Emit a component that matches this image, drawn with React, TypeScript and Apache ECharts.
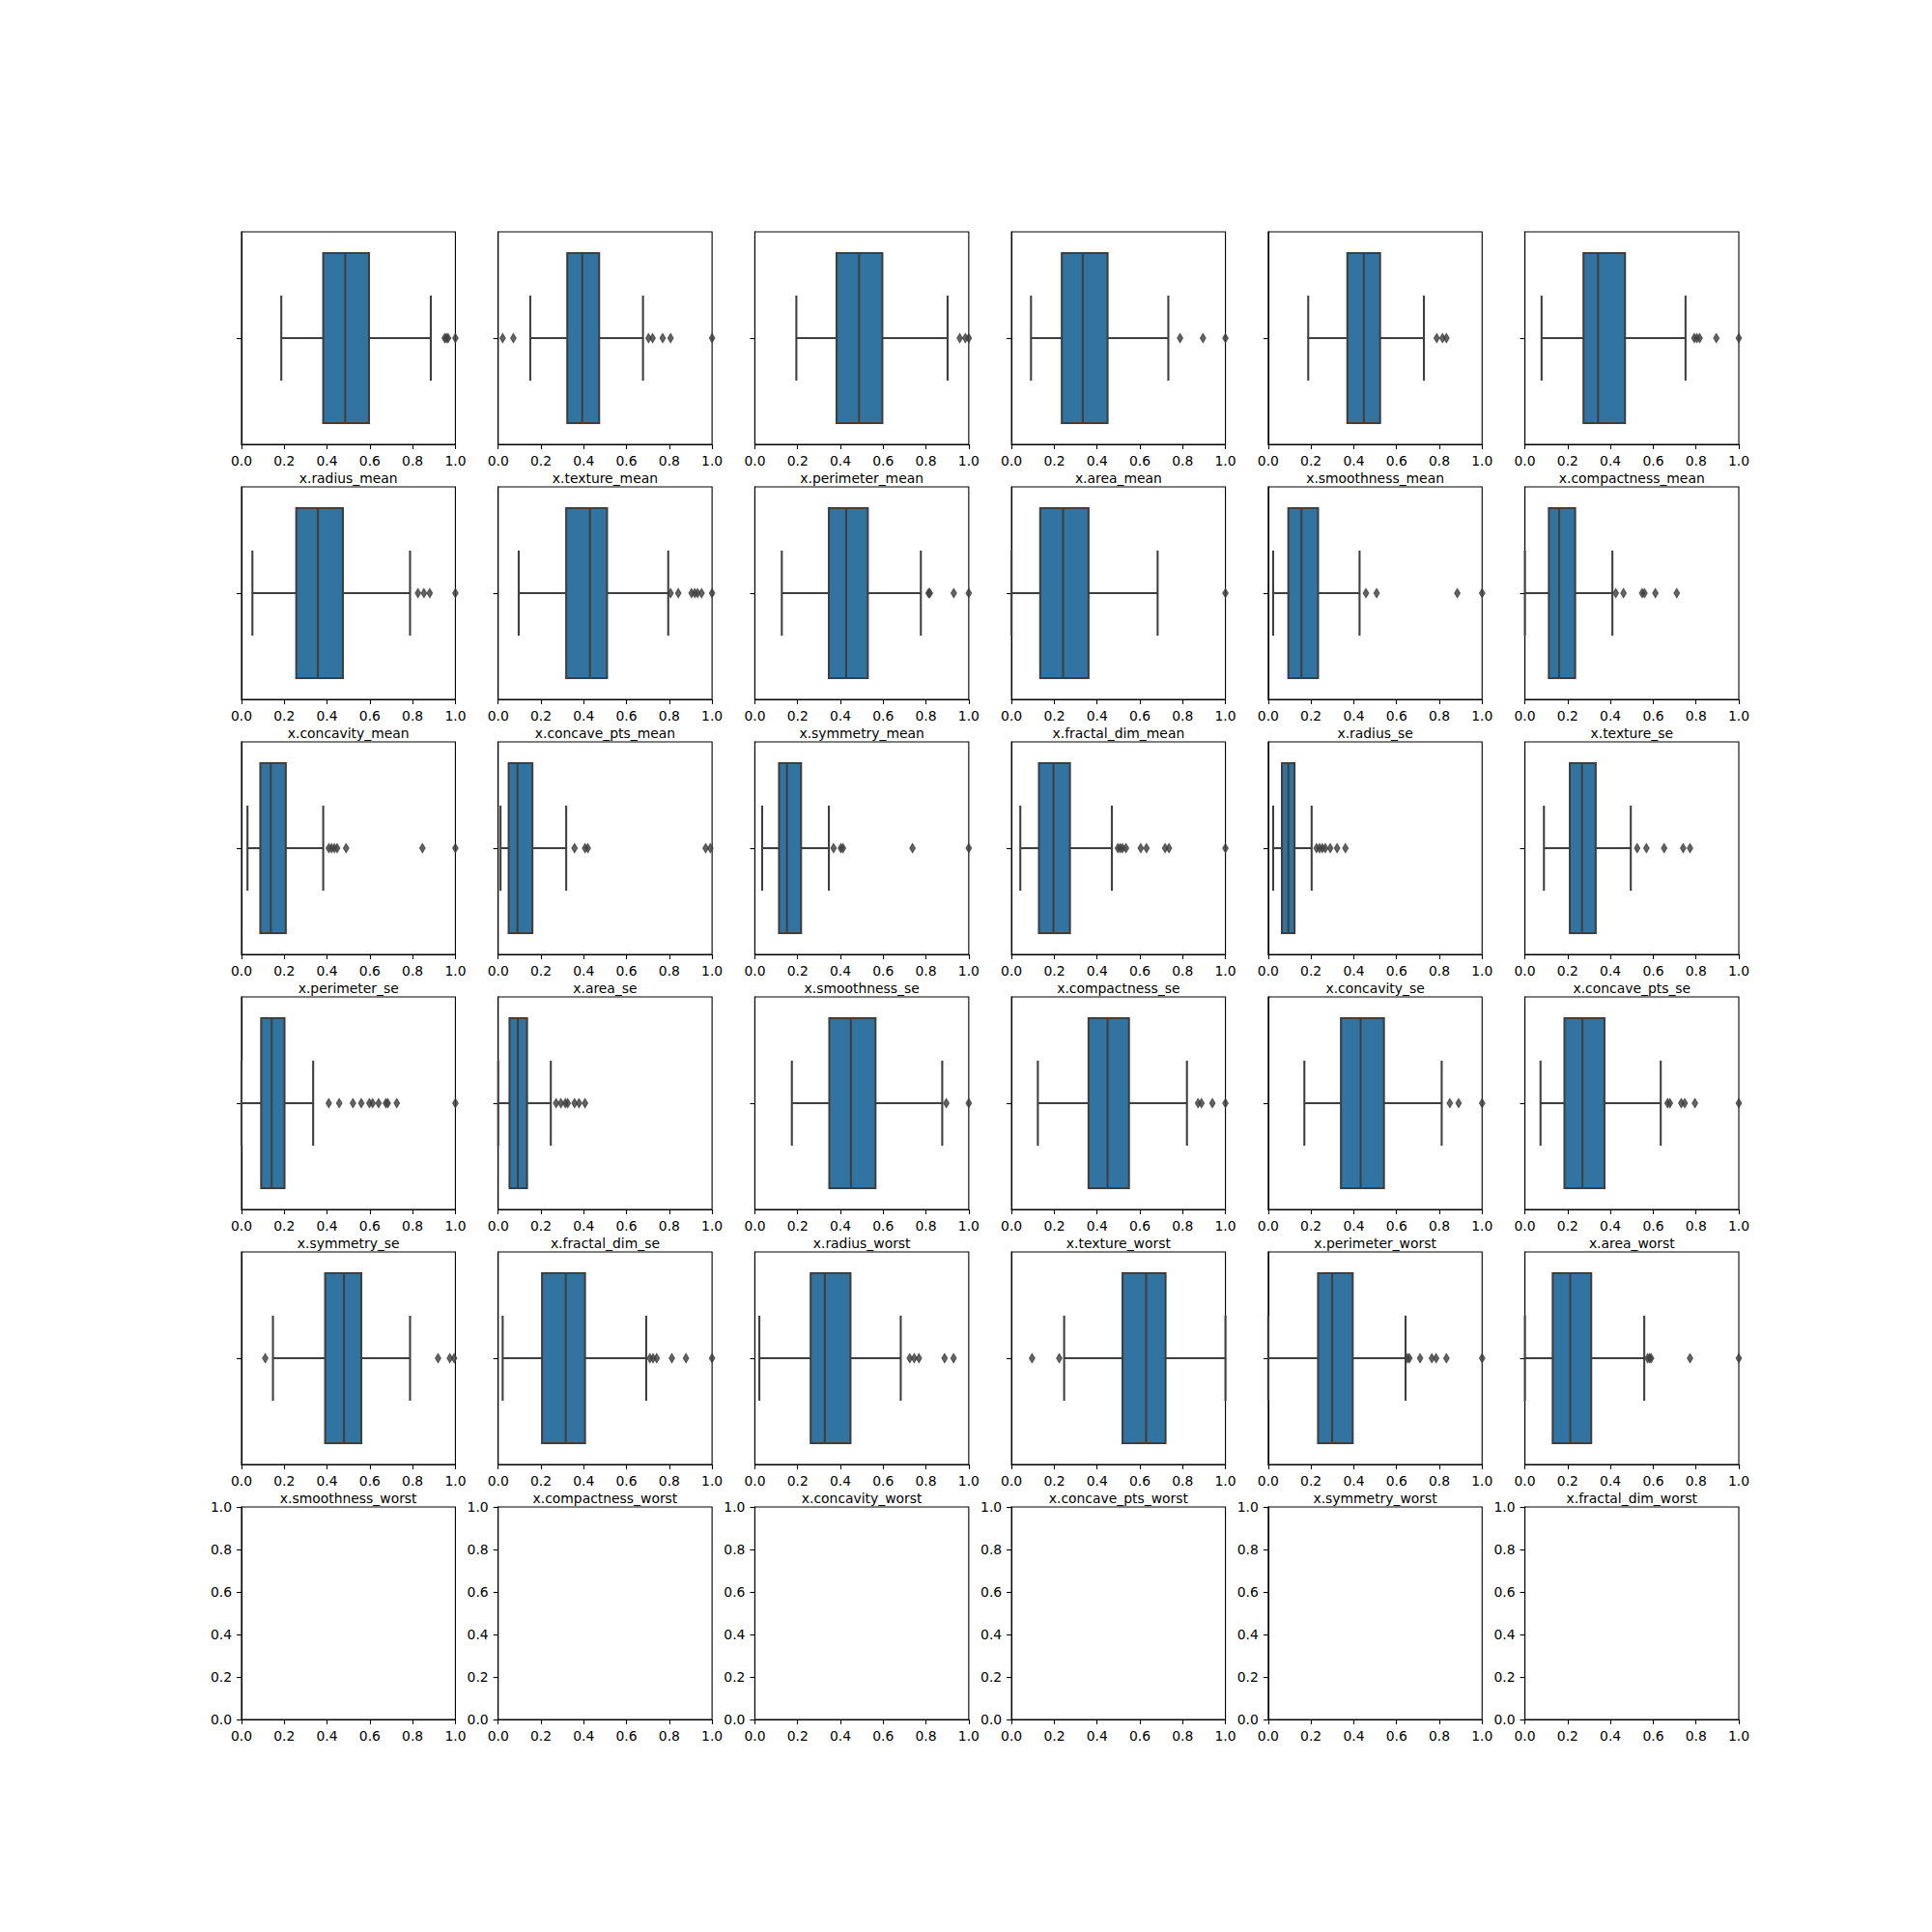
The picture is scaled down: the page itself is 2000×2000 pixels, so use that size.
import React, { useEffect, useRef } from "react";
import * as echarts from "echarts";

const names = [
  "x.radius_mean", "x.texture_mean", "x.perimeter_mean", "x.area_mean", "x.smoothness_mean", "x.compactness_mean",
  "x.concavity_mean", "x.concave_pts_mean", "x.symmetry_mean", "x.fractal_dim_mean", "x.radius_se", "x.texture_se",
  "x.perimeter_se", "x.area_se", "x.smoothness_se", "x.compactness_se", "x.concavity_se", "x.concave_pts_se",
  "x.symmetry_se", "x.fractal_dim_se", "x.radius_worst", "x.texture_worst", "x.perimeter_worst", "x.area_worst",
  "x.smoothness_worst", "x.compactness_worst", "x.concavity_worst", "x.concave_pts_worst", "x.symmetry_worst", "x.fractal_dim_worst",
];

const whiskerLow = [
  0.186, 0.150, 0.194, 0.091, 0.187, 0.078,
  0.051, 0.096, 0.126, 0.0, 0.023, 0.0,
  0.028, 0.011, 0.034, 0.041, 0.023, 0.089,
  0.0, 0.0, 0.173, 0.123, 0.169, 0.073,
  0.147, 0.021, 0.021, 0.246, 0.0, 0.0,
];
const q1 = [
  0.382, 0.323, 0.382, 0.235, 0.370, 0.274,
  0.256, 0.318, 0.346, 0.134, 0.094, 0.112,
  0.088, 0.049, 0.113, 0.128, 0.064, 0.210,
  0.092, 0.053, 0.348, 0.360, 0.340, 0.185,
  0.391, 0.205, 0.261, 0.519, 0.233, 0.130,
];
const median = [
  0.485, 0.393, 0.487, 0.333, 0.447, 0.342,
  0.357, 0.429, 0.427, 0.241, 0.155, 0.160,
  0.137, 0.090, 0.150, 0.196, 0.094, 0.267,
  0.141, 0.092, 0.449, 0.449, 0.432, 0.269,
  0.479, 0.316, 0.327, 0.629, 0.299, 0.212,
];
const q3 = [
  0.596, 0.472, 0.596, 0.449, 0.523, 0.468,
  0.474, 0.509, 0.528, 0.360, 0.233, 0.235,
  0.207, 0.160, 0.216, 0.273, 0.123, 0.331,
  0.201, 0.135, 0.564, 0.549, 0.541, 0.372,
  0.560, 0.406, 0.447, 0.720, 0.395, 0.310,
];
const whiskerHigh = [
  0.885, 0.677, 0.901, 0.733, 0.728, 0.751,
  0.788, 0.795, 0.776, 0.683, 0.427, 0.409,
  0.382, 0.318, 0.346, 0.469, 0.203, 0.495,
  0.335, 0.246, 0.876, 0.820, 0.811, 0.635,
  0.788, 0.692, 0.682, 1.0, 0.642, 0.558,
];
const outliers = [
  [0.950, 0.958, 0.966, 1.0],
  [0.021, 0.071, 0.703, 0.722, 0.769, 0.806, 1.0],
  [0.958, 0.984, 1.0],
  [0.788, 0.895, 1.0],
  [0.788, 0.815, 0.833],
  [0.792, 0.804, 0.817, 0.895, 1.0],
  [0.825, 0.853, 0.880, 1.0],
  [0.806, 0.842, 0.904, 0.919, 0.932, 0.951, 1.0],
  [0.812, 0.818, 0.930, 1.0],
  [1.0],
  [0.457, 0.507, 0.884, 1.0],
  [0.425, 0.461, 0.548, 0.559, 0.610, 0.710],
  [0.408, 0.421, 0.434, 0.447, 0.489, 0.846, 1.0],
  [0.357, 0.406, 0.419, 0.970, 0.992],
  [0.368, 0.402, 0.412, 0.737, 1.0],
  [0.497, 0.508, 0.519, 0.535, 0.604, 0.631, 0.718, 0.736, 1.0],
  [0.226, 0.240, 0.253, 0.267, 0.290, 0.322, 0.361],
  [0.525, 0.568, 0.651, 0.740, 0.772],
  [0.408, 0.457, 0.521, 0.560, 0.598, 0.613, 0.641, 0.675, 0.684, 0.726, 1.0],
  [0.271, 0.293, 0.314, 0.325, 0.357, 0.378, 0.406],
  [0.895, 1.0],
  [0.872, 0.888, 0.939, 1.0],
  [0.849, 0.890, 1.0],
  [0.667, 0.678, 0.731, 0.747, 0.795, 1.0],
  [0.111, 0.919, 0.974, 0.994],
  [0.709, 0.724, 0.741, 0.812, 0.878, 1.0],
  [0.724, 0.745, 0.767, 0.887, 0.929],
  [0.096, 0.223],
  [0.651, 0.660, 0.710, 0.765, 0.785, 0.833, 1.0],
  [0.574, 0.583, 0.590, 0.772, 1.0],
];

const tickValues = [0, 0.2, 0.4, 0.6, 0.8, 1.0];

const FONT = "DejaVu Sans";
const FS = 13.9;
const BOX_FILL = "#3274a1";
const LINE = "#3f3f3f";
const LW = 2.08;

function buildOption() {
  const nCols = 6;
  const nRows = 6;
  const left0 = 250;
  const top0 = 240;
  const cellW = 1550 / (nCols + (nCols - 1) * 0.2);
  const cellH = 1540 / (nRows + (nRows - 1) * 0.2);
  const grids: any[] = [];
  const xAxes: any[] = [];
  const yAxes: any[] = [];
  const series: any[] = [];
  const total = nCols * nRows;
  const labelStyle = { fontFamily: FONT, fontSize: FS, color: "#000", margin: 10, formatter: (v: number) => v.toFixed(1) };
  const axisLine = { show: true, onZero: false, lineStyle: { color: "#000", width: 1.1 } };
  const axisTick = { show: true, length: 5, lineStyle: { color: "#000", width: 1.1 } };

  for (let i = 0; i < total; i++) {
    const r = Math.floor(i / nCols);
    const c = i % nCols;
    grids.push({
      left: left0 + c * cellW * 1.2,
      top: top0 + r * cellH * 1.2,
      width: cellW,
      height: cellH,
      show: true,
      borderColor: "#000",
      borderWidth: 1.1,
      backgroundColor: "transparent",
      containLabel: false,
      outerBoundsMode: "none",
    });
    const isBox = i < names.length;
    xAxes.push({
      type: "value",
      gridIndex: i,
      min: tickValues[0],
      max: tickValues[tickValues.length - 1],
      interval: 0.2,
      axisLine,
      axisTick,
      axisLabel: labelStyle,
      splitLine: { show: false },
      name: isBox ? names[i] : "",
      nameLocation: "middle",
      nameGap: 28,
      nameTextStyle: { fontFamily: FONT, fontSize: FS, color: "#000" },
    });
    if (isBox) {
      yAxes.push({
        type: "category",
        gridIndex: i,
        data: [""],
        axisLine,
        axisTick: { ...axisTick, alignWithLabel: true },
        axisLabel: { show: false },
        splitLine: { show: false },
      });
      series.push({
        type: "custom",
        xAxisIndex: i,
        yAxisIndex: i,
        encode: { y: 0, x: [1, 2, 3, 4, 5] },
        data: [[0, whiskerLow[i], q1[i], median[i], q3[i], whiskerHigh[i]]],
        renderItem: (params: any, api: any) => {
          const cat = api.value(0);
          const pLo = api.coord([api.value(1), cat]);
          const pQ1 = api.coord([api.value(2), cat]);
          const pMed = api.coord([api.value(3), cat]);
          const pQ3 = api.coord([api.value(4), cat]);
          const pHi = api.coord([api.value(5), cat]);
          const band = api.size([0, 1])[1];
          const y = pLo[1];
          const hb = band * 0.4;
          const hc = band * 0.2;
          const ls = { stroke: LINE, lineWidth: LW, fill: null };
          return {
            type: "group",
            children: [
              { type: "rect", shape: { x: pQ1[0], y: y - hb, width: pQ3[0] - pQ1[0], height: 2 * hb }, style: { fill: BOX_FILL, stroke: LINE, lineWidth: LW } },
              { type: "line", shape: { x1: pLo[0], y1: y, x2: pQ1[0], y2: y }, style: ls },
              { type: "line", shape: { x1: pQ3[0], y1: y, x2: pHi[0], y2: y }, style: ls },
              { type: "line", shape: { x1: pLo[0], y1: y - hc, x2: pLo[0], y2: y + hc }, style: ls },
              { type: "line", shape: { x1: pHi[0], y1: y - hc, x2: pHi[0], y2: y + hc }, style: ls },
              { type: "line", shape: { x1: pMed[0], y1: y - hb, x2: pMed[0], y2: y + hb }, style: ls },
            ],
          };
        },
        z: 2,
      });
      series.push({
        type: "scatter",
        xAxisIndex: i,
        yAxisIndex: i,
        symbol: "diamond",
        symbolSize: [5.5, 9],
        itemStyle: { color: LINE, borderColor: LINE, borderWidth: 1.3 },
        data: outliers[i].map((v) => [v, 0]),
        clip: false,
        z: 3,
      });
    } else {
      yAxes.push({
        type: "value",
        gridIndex: i,
        min: tickValues[0],
        max: tickValues[tickValues.length - 1],
        interval: 0.2,
        axisLine,
        axisTick,
        axisLabel: labelStyle,
        splitLine: { show: false },
      });
    }
  }
  return {
    animation: false,
    backgroundColor: "#fff",
    textStyle: { fontFamily: FONT },
    grid: grids,
    xAxis: xAxes,
    yAxis: yAxes,
    series,
  };
}

export default function App() {
  const ref = useRef<HTMLDivElement>(null);
  useEffect(() => {
    if (!ref.current) return;
    const chart = echarts.init(ref.current, null, { renderer: "svg" });
    chart.setOption(buildOption() as any);
    return () => chart.dispose();
  }, []);
  return (
    <div
      ref={ref}
      style={{ position: "absolute", left: 0, top: 0, width: 2000, height: 2000, background: "#fff" }}
    />
  );
}
